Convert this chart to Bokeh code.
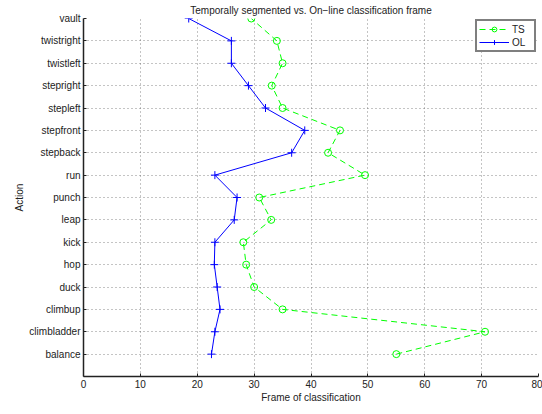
from bokeh.plotting import figure
from bokeh.models import Range1d, FixedTicker, Legend, LegendItem
from bokeh.embed import file_html
from bokeh.resources import INLINE

# Data (bottom to top)
actions = ["balance", "climbladder", "climbup", "duck", "hop", "kick", "leap",
           "punch", "run", "stepback", "stepfront", "stepleft", "stepright",
           "twistleft", "twistright", "vault"]
ts_values = [55.0, 70.6, 35.0, 30.0, 28.6, 28.1, 33.0, 30.9, 49.5, 43.0, 45.1,
             35.0, 33.1, 35.0, 34.0, 29.5]
ol_values = [22.5, 23.1, 24.0, 23.5, 23.0, 23.1, 26.5, 27.0, 23.1, 36.6, 38.9,
             32.0, 29.0, 26.0, 26.0, 18.5]
x_ticks = [0, 10, 20, 30, 40, 50, 60, 70, 80]

ypos = list(range(1, len(actions) + 1))
FONT = "Liberation Sans"

p = figure(width=542, height=414, output_backend="svg", toolbar_location=None,
           x_range=Range1d(0, 80), y_range=Range1d(0, 16),
           min_border_left=83, min_border_right=4, min_border_top=18,
           min_border_bottom=38)
p.outline_line_color = None
p.background_fill_color = "white"

p.title.text = "Temporally segmented vs. On\u2212line classification frame"
p.title.align = "center"
p.title.text_font = FONT
p.title.text_font_size = "10px"
p.title.text_font_style = "normal"
p.title.text_color = "#222222"
p.title.standoff = 5
p.title.offset = 3

# Axes
for ax in (p.xaxis[0], p.yaxis[0]):
    ax.axis_line_color = "#222222"
    ax.axis_line_width = 1.5
    ax.major_tick_line_color = "#222222"
    ax.major_tick_in = 3
    ax.major_tick_out = 0
    ax.minor_tick_line_color = None
    ax.major_label_text_font = FONT
    ax.major_label_text_font_size = "10px"
    ax.major_label_text_color = "#222222"
    ax.axis_label_text_font = FONT
    ax.axis_label_text_font_size = "10px"
    ax.axis_label_text_font_style = "normal"
    ax.axis_label_text_color = "#222222"

p.xaxis.ticker = FixedTicker(ticks=x_ticks)
p.xaxis.axis_label = "Frame of classification"
p.xaxis.major_label_standoff = 3
p.xaxis.axis_label_standoff = 1

p.yaxis.ticker = FixedTicker(ticks=ypos)
p.yaxis.major_label_overrides = {y: a for y, a in zip(ypos, actions)}
p.yaxis.axis_label = "Action"
p.yaxis.major_label_standoff = 3
p.yaxis.axis_label_standoff = 1

# Grid
for g in (p.xgrid[0], p.ygrid[0]):
    g.grid_line_color = "#555555"
    g.grid_line_dash = "1 3"
    g.grid_line_width = 1
    g.grid_line_alpha = 0.7
p.ygrid.ticker = FixedTicker(ticks=ypos)
p.xgrid.ticker = FixedTicker(ticks=x_ticks)

# Series
ts_line = p.line(ts_values, ypos, line_color="#00ff00", line_dash="6 4", line_width=1)
ts_pts = p.scatter(ts_values, ypos, marker="circle", size=7, fill_color=None,
                   line_color="#00ff00", line_width=1)
ol_line = p.line(ol_values, ypos, line_color="#0000ff", line_width=1)
ol_pts = p.scatter(ol_values, ypos, marker="cross", size=8,
                   line_color="#0000ff", line_width=1)

legend = Legend(items=[LegendItem(label="TS", renderers=[ts_line, ts_pts]),
                       LegendItem(label="OL", renderers=[ol_line, ol_pts])],
                location=(392, 324))
legend.border_line_color = "black"
legend.border_line_width = 2
legend.background_fill_color = "white"
legend.background_fill_alpha = 1
legend.padding = 2
legend.spacing = 1
legend.margin = 0
legend.glyph_width = 30
legend.glyph_height = 12
legend.label_height = 12
legend.label_width = 20
legend.label_standoff = 3
legend.label_text_font = FONT
legend.label_text_font_size = "10px"
legend.label_text_color = "#222222"
p.add_layout(legend)

open("out.html", "w").write(file_html(p, INLINE))
